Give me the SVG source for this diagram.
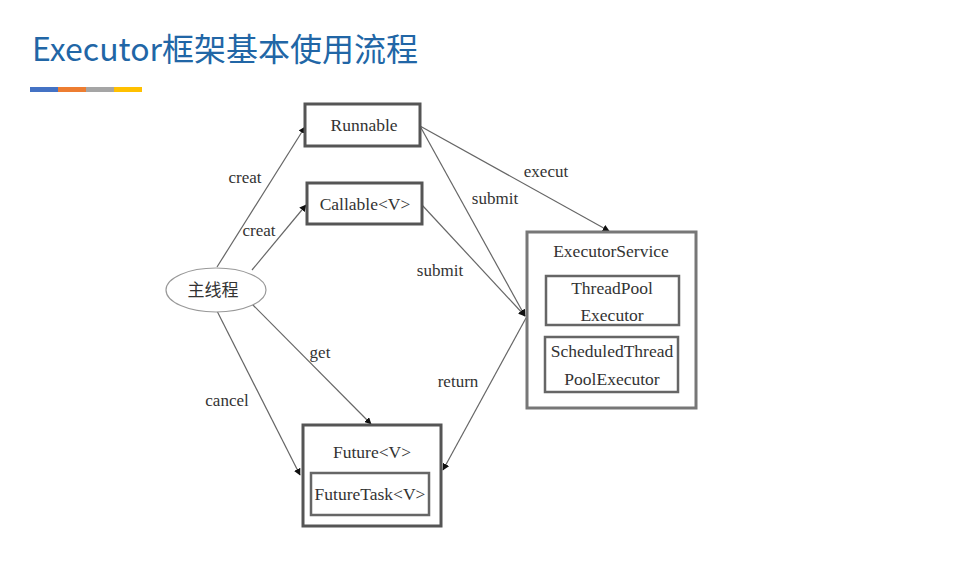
<svg xmlns="http://www.w3.org/2000/svg" width="954" height="566" viewBox="0 0 954 566">
<defs>
<style>
text.t{font-family:'Liberation Serif','DejaVu Serif',serif;fill:#333;text-anchor:middle}
.n{font-size:17.5px}
.l{font-size:17px}
.box{fill:#fff;stroke:#555;stroke-width:3}
.inner{fill:#fff;stroke:#666;stroke-width:2.5}
.e{stroke:#666;stroke-width:1.2;fill:none;marker-end:url(#ah)}
</style>
<marker id="ah" viewBox="0 0 10 10" refX="9" refY="5" markerWidth="7" markerHeight="7" orient="auto" markerUnits="userSpaceOnUse">
<path d="M0,0 L10,5 L0,10 z" fill="#111"/>
</marker>
</defs>
<rect width="954" height="566" fill="#fff"/>
<text x="32" y="61" font-family="'Noto Sans CJK SC','Noto Sans',sans-serif" font-size="32" fill="#2166a6">Executor框架基本使用流程</text>
<rect x="30" y="87" width="28" height="5" fill="#4472c4"/>
<rect x="58" y="87" width="28" height="5" fill="#ed7d31"/>
<rect x="86" y="87" width="28" height="5" fill="#a5a5a5"/>
<rect x="114" y="87" width="28" height="5" fill="#ffc000"/>
<g id="connectors">
<line class="e" x1="217" y1="267" x2="305" y2="127"/>
<line class="e" x1="252" y1="270" x2="306" y2="205"/>
<line class="e" x1="217" y1="311" x2="300" y2="475"/>
<line class="e" x1="252" y1="304" x2="371" y2="424"/>
<line class="e" x1="420" y1="126" x2="609" y2="231"/>
<line class="e" x1="420" y1="126" x2="525" y2="316"/>
<line class="e" x1="422" y1="205" x2="525" y2="316"/>
<line class="e" x1="526" y1="318" x2="443" y2="470"/>
<text class="t l" font-family="Liberation Serif" x="245" y="183">creat</text>
<text class="t l" font-family="Liberation Serif" x="259" y="236">creat</text>
<text class="t l" font-family="Liberation Serif" x="227" y="406">cancel</text>
<text class="t l" font-family="Liberation Serif" x="320" y="358">get</text>
<text class="t l" font-family="Liberation Serif" x="546" y="177">execut</text>
<text class="t l" font-family="Liberation Serif" x="495" y="204">submit</text>
<text class="t l" font-family="Liberation Serif" x="440" y="276">submit</text>
<text class="t l" font-family="Liberation Serif" x="458" y="387">return</text>
</g>
<g id="runnable">
<rect class="box" x="305" y="104" width="115" height="42"/>
<text class="t n" font-family="Liberation Serif" x="364" y="131">Runnable</text>
</g>
<g id="callable">
<rect class="box" x="307" y="183" width="115" height="41"/>
<text class="t n" font-family="Liberation Serif" x="365" y="210">Callable&lt;V&gt;</text>
</g>
<g id="main">
<ellipse cx="216" cy="290" rx="50" ry="22" fill="#fff" stroke="#999" stroke-width="1.2"/>
<text x="213" y="296" font-family="'Noto Sans CJK SC',sans-serif" font-size="17" fill="#333" text-anchor="middle">主线程</text>
</g>
<g id="executorservice">
<rect x="527" y="232" width="169" height="176" fill="#fff" stroke="#777" stroke-width="3"/>
<text class="t n" font-family="Liberation Serif" x="611" y="257">ExecutorService</text>
<rect class="inner" x="546" y="276" width="133" height="49"/>
<text class="t n" font-family="Liberation Serif" x="612" y="294">ThreadPool</text>
<text class="t n" font-family="Liberation Serif" x="612" y="321">Executor</text>
<rect class="inner" x="545" y="337" width="133" height="55"/>
<text class="t n" font-family="Liberation Serif" x="612" y="357">ScheduledThread</text>
<text class="t n" font-family="Liberation Serif" x="612" y="385">PoolExecutor</text>
</g>
<g id="future">
<rect class="box" x="303" y="425" width="138" height="101"/>
<text class="t n" font-family="Liberation Serif" x="372" y="458">Future&lt;V&gt;</text>
<rect class="inner" x="311" y="473" width="118" height="42"/>
<text class="t n" font-family="Liberation Serif" x="370" y="500">FutureTask&lt;V&gt;</text>
</g>
</svg>
